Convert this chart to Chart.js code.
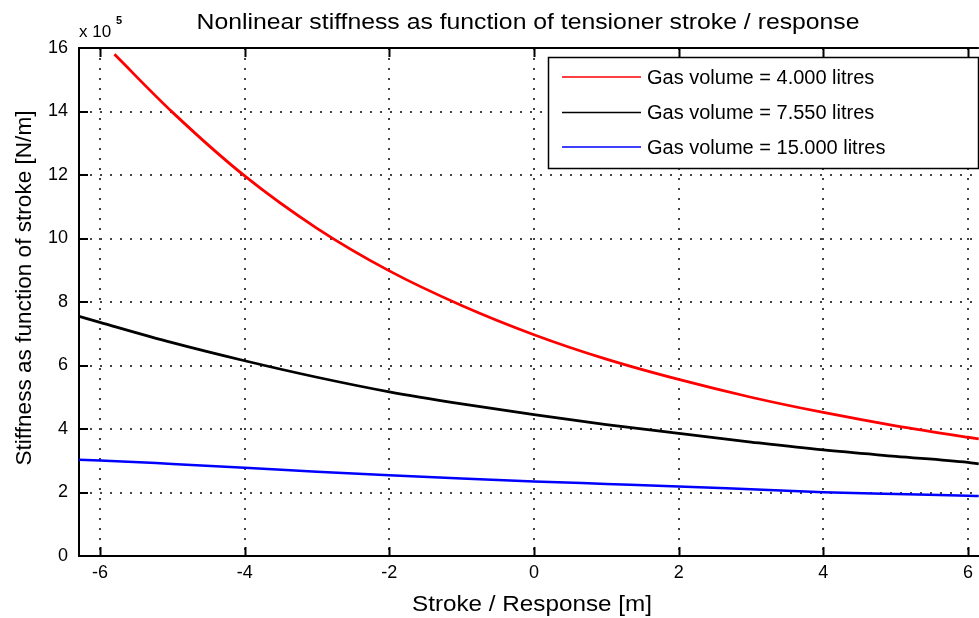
<!DOCTYPE html>
<html>
<head>
<meta charset="utf-8">
<script src="https://cdn.jsdelivr.net/npm/chart.js@4"></script>
<style>
  html, body { margin: 0; padding: 0; background: #fff; }
  canvas { display: block; }
</style>
</head>
<body>
<canvas id="stiffnessChart" width="979" height="618"></canvas>
<script>
// stroke positions [m]; the 4 l curve starts later than the other two
const strokeRed = [-5.8, -5, -4, -3, -2, -1, 0, 1, 2, 3, 4, 5, 6, 6.15];
const stroke = [-6.29, -6, -5, -4, -3, -2, -1, 0, 1, 2, 3, 4, 5, 6, 6.15];

// stiffness in units of 1e5 N/m
const stiffness4 = [15.8, 13.98, 11.97, 10.32, 8.98, 7.89, 6.97, 6.2, 5.56, 5.0, 4.52, 4.1, 3.74, 3.69];
const stiffness755 = [7.55, 7.36, 6.72, 6.15, 5.63, 5.17, 4.79, 4.45, 4.14, 3.86, 3.59, 3.34, 3.14, 2.95, 2.9];
const stiffness15 = [3.03, 3.01, 2.9, 2.78, 2.65, 2.54, 2.44, 2.35, 2.27, 2.19, 2.1, 2.01, 1.95, 1.9, 1.89];

const seriesLabels = [
  "Gas volume = 4.000 litres",
  "Gas volume = 7.550 litres",
  "Gas volume = 15.000 litres",
];
const seriesColors = ["#ff0000", "#000000", "#0000ff"];

const xTicks = [-6, -4, -2, 0, 2, 4, 6];
const yTicks = [0, 2, 4, 6, 8, 10, 12, 14, 16];

const FONT = '"Liberation Sans", Arial, sans-serif';

const toPoints = (xs, ys) => ys.map((y, i) => ({ x: xs[i], y }));

// write text squeezed/stretched to a given width (the plot font is narrow)
function fitText(ctx, text, cx, cy, size, width, rotate) {
  ctx.save();
  ctx.font = size + "px " + FONT;
  ctx.textAlign = "center";
  ctx.textBaseline = "middle";
  ctx.translate(cx, cy);
  if (rotate) ctx.rotate(-Math.PI / 2);
  const w = ctx.measureText(text).width;
  ctx.scale(width / w, 1);
  ctx.fillStyle = "#000";
  ctx.fillText(text, 0, 0);
  ctx.restore();
}

const framePlugin = {
  id: "matlabFrame",
  afterDraw(chart) {
    const { ctx, chartArea: a, scales } = chart;
    ctx.save();
    ctx.strokeStyle = "#000";
    ctx.lineWidth = 2;

    // top edge of the box
    ctx.beginPath();
    ctx.moveTo(a.left, a.top);
    ctx.lineTo(a.right, a.top);
    ctx.stroke();

    // inward tick marks
    ctx.beginPath();
    for (const v of xTicks) {
      const px = Math.round(scales.x.getPixelForValue(v)) + 0.5;
      ctx.moveTo(px, a.bottom);
      ctx.lineTo(px, a.bottom - 9);
      ctx.moveTo(px, a.top);
      ctx.lineTo(px, a.top + 9);
    }
    for (const v of yTicks) {
      const py = Math.round(scales.y.getPixelForValue(v));
      ctx.moveTo(a.left, py);
      ctx.lineTo(a.left + 9, py);
    }
    ctx.stroke();

    // legend box
    const lx = 548.5, ly = 57.5, lw = 430, lh = 111;
    ctx.fillStyle = "#fff";
    ctx.fillRect(lx, ly, lw, lh);
    ctx.lineWidth = 1.5;
    ctx.strokeRect(lx, ly, lw, lh);
    const rows = [77, 112.5, 147];
    ctx.font = "20px " + FONT;
    ctx.textBaseline = "middle";
    ctx.textAlign = "left";
    chart.data.datasets.forEach((ds, i) => {
      ctx.strokeStyle = ds.borderColor;
      ctx.lineWidth = 1.5;
      ctx.beginPath();
      ctx.moveTo(562, rows[i]);
      ctx.lineTo(641, rows[i]);
      ctx.stroke();
      ctx.fillStyle = "#000";
      ctx.fillText(ds.label, 647, rows[i] + 1);
    });

    // titles
    fitText(ctx, "Nonlinear stiffness as function of tensioner stroke / response", 528, 23, 22, 663, false);
    fitText(ctx, "Stroke / Response [m]", 532, 605, 22, 240, false);
    fitText(ctx, "Stiffness as function of stroke [N/m]", 25, 288, 22, 355, true);

    // exponent label above the y axis
    ctx.fillStyle = "#000";
    ctx.textAlign = "left";
    ctx.textBaseline = "alphabetic";
    ctx.font = "17px " + FONT;
    ctx.fillText("x 10", 79, 37);
    ctx.font = "bold 11px " + FONT;
    ctx.fillText("5", 116, 24);
    ctx.restore();
  },
};

const gridStyle = {
  color: "#444",
  lineWidth: 2,
  drawTicks: false,
};

new Chart(document.getElementById("stiffnessChart"), {
  type: "line",
  data: {
    datasets: [
      { label: seriesLabels[0], data: toPoints(strokeRed, stiffness4), borderColor: seriesColors[0], borderWidth: 2.8 },
      { label: seriesLabels[1], data: toPoints(stroke, stiffness755), borderColor: seriesColors[1], borderWidth: 2.8 },
      { label: seriesLabels[2], data: toPoints(stroke, stiffness15), borderColor: seriesColors[2], borderWidth: 2.5 },
    ],
  },
  options: {
    responsive: false,
    animation: false,
    devicePixelRatio: 1,
    layout: { padding: { top: 48, left: 0, right: 0, bottom: 0 } },
    elements: {
      point: { radius: 0 },
      line: { cubicInterpolationMode: "monotone", fill: false },
    },
    plugins: {
      legend: { display: false },
      title: { display: false },
      tooltip: { enabled: false },
    },
    scales: {
      x: {
        type: "linear",
        min: -6.29,
        max: 6.15,
        afterFit: (s) => { s.height = 62; },
        afterBuildTicks: (s) => { s.ticks = xTicks.map((v) => ({ value: v })); },
        grid: gridStyle,
        border: { display: true, color: "#000", width: 2, dash: [2, 8] },
        ticks: { color: "#000", padding: 6, font: { family: FONT, size: 18 } },
      },
      y: {
        type: "linear",
        min: 0,
        max: 16,
        afterFit: (s) => { s.width = 79; },
        afterBuildTicks: (s) => { s.ticks = yTicks.map((v) => ({ value: v })); },
        grid: gridStyle,
        border: { display: true, color: "#000", width: 2, dash: [2, 8] },
        ticks: { color: "#000", padding: 11, font: { family: FONT, size: 18 } },
      },
    },
  },
  plugins: [framePlugin],
});
</script>
</body>
</html>
